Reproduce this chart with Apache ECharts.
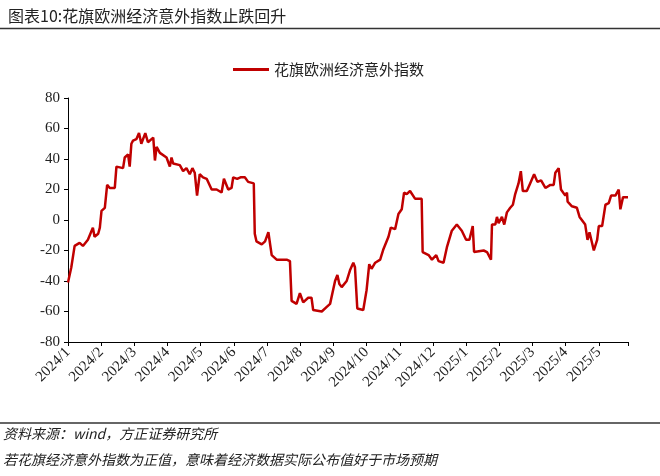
<!DOCTYPE html>
<html><head><meta charset="utf-8">
<script src="https://cdn.jsdelivr.net/npm/echarts@6/dist/echarts.min.js"></script>
<style>html,body{margin:0;padding:0;background:#fff}#c{width:660px;height:476px}</style>
</head><body><div id="c"></div>
<script>
const monthLabels = ['2024/1','2024/2','2024/3','2024/4','2024/5','2024/6','2024/7','2024/8','2024/9','2024/10','2024/11','2024/12','2025/1','2025/2','2025/3','2025/4','2025/5'];
const seriesName = '花旗欧洲经济意外指数';
// x: months since 2024/1 (fractional), y: index value
const xPos = [0,0.10,0.20,0.35,0.45,0.60,0.75,0.80,0.91,0.96,1.01,1.11,1.18,1.26,1.41,1.46,1.66,1.71,1.81,1.86,1.91,1.96,2.06,2.14,2.21,2.33,2.41,2.57,2.62,2.67,2.77,2.97,3.07,3.12,3.17,3.37,3.47,3.57,3.67,3.75,3.82,3.89,3.97,4.07,4.18,4.33,4.48,4.63,4.70,4.83,4.93,4.98,5.10,5.20,5.33,5.43,5.60,5.63,5.68,5.84,5.94,6.04,6.14,6.29,6.59,6.69,6.74,6.89,6.99,7.09,7.24,7.34,7.39,7.65,7.80,7.90,8.05,8.12,8.18,8.25,8.40,8.50,8.60,8.65,8.72,8.90,9.00,9.08,9.15,9.26,9.41,9.51,9.66,9.73,9.86,9.96,10.06,10.13,10.21,10.31,10.46,10.66,10.69,10.87,10.97,11.10,11.17,11.32,11.42,11.57,11.72,11.87,12.00,12.10,12.20,12.24,12.53,12.63,12.75,12.78,12.88,12.93,12.98,13.08,13.15,13.23,13.33,13.41,13.48,13.58,13.65,13.71,13.83,13.93,14.05,14.15,14.26,14.39,14.54,14.64,14.69,14.79,14.86,14.99,15.04,15.06,15.19,15.34,15.42,15.59,15.66,15.72,15.85,15.95,16.00,16.10,16.20,16.30,16.37,16.50,16.60,16.65,16.73,16.88];
const values = [-41,-31,-17,-15,-17,-13,-5,-11,-9,-5,6,8,23,21,21,35,34,41,43,35,50,52,53,57,50,57,51,54,39,48,44,41,35,41,37,36,32,34,30,34,31,16,30,28,27,20,20,18,27,20,21,28,27,28,28,25,24,-9,-14,-16,-14,-8,-23,-26,-26,-27,-53,-55,-48,-54,-51,-51,-59,-60,-57,-55,-40,-36,-42,-44,-40,-33,-28,-31,-58,-59,-46,-29,-32,-28,-26,-19,-11,-5,-6,4,7,18,17,19,14,14,-21,-23,-26,-23,-27,-28,-18,-7,-3,-7,-13,-13,-4,-21,-20,-21,-26,-3,-3,2,-2,2,-3,5,8,10,17,24,32,19,19,24,30,25,26,21,23,23,31,34,20,16,18,12,9,8,2,-3,-13,-8,-20,-13,-4,-4,10,11,16,16,20,7,15,15];
const yTicks = {min:-80, max:80, interval:20};

const chart = echarts.init(document.getElementById('c'));
const font = 'Liberation Serif';
chart.setOption({
  animation:false,
  grid:{left:68,right:32,top:98,bottom:134},
  title:{text:'图表10:花旗欧洲经济意外指数止跌回升',left:3,top:3,textStyle:{fontSize:16,fontWeight:'normal',color:'#222',fontFamily:'Noto Sans CJK SC'}},
  legend:{top:57,left:228,itemWidth:36,itemHeight:3,itemGap:6,icon:'rect',textStyle:{fontSize:15,color:'#222',fontFamily:'Noto Sans CJK SC'},data:[seriesName]},
  graphic:[
    {type:'line',shape:{x1:0,y1:28.5,x2:660,y2:28.5},style:{stroke:'#333',lineWidth:1.5}},
    {type:'line',shape:{x1:0,y1:423,x2:660,y2:423},style:{stroke:'#333',lineWidth:1.5}},
    {type:'text',left:3,top:427,style:{text:'资料来源：wind，方正证券研究所',fontSize:14,fontStyle:'italic',fill:'#222',fontFamily:'Noto Sans CJK SC'}},
    {type:'text',left:3,top:453,style:{text:'若花旗经济意外指数为正值，意味着经济数据实际公布值好于市场预期',fontSize:14,fontStyle:'italic',fill:'#222',fontFamily:'Noto Sans CJK SC'}}
  ],
  xAxis:[
    {type:'value',min:0,max:16.88,interval:1,position:'bottom',
     axisLine:{show:false},axisTick:{show:false},splitLine:{show:false},
     axisLabel:{rotate:45,fontSize:15,color:'#222',fontFamily:font,margin:8,showMaxLabel:false,
       formatter:v=>monthLabels[Math.round(v)]||''}},
    {type:'value',min:0,max:16.88,interval:1,position:'bottom',
     axisLine:{show:true,onZero:true,lineStyle:{color:'#000',width:1}},
     axisTick:{show:true,inside:false,length:4,lineStyle:{color:'#000'}},
     splitLine:{show:false},axisLabel:{show:false}}
  ],
  yAxis:{type:'value',min:yTicks.min,max:yTicks.max,interval:yTicks.interval,
    axisLine:{show:true,lineStyle:{color:'#000'}},axisTick:{show:true,length:4,lineStyle:{color:'#000'}},
    splitLine:{show:false},axisLabel:{fontSize:15,color:'#222',fontFamily:font,margin:8}},
  series:[{name:seriesName,type:'line',xAxisIndex:0,data:xPos.map((x,i)=>[x,values[i]]),
    symbol:'none',lineStyle:{color:'#C00000',width:2.5},itemStyle:{color:'#C00000'}}]
});
</script></body></html>
